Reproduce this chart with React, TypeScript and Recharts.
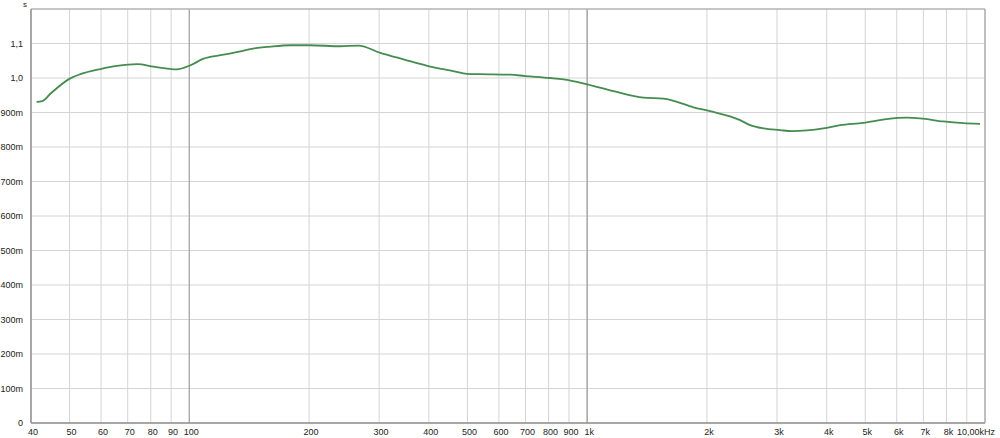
import { LineChart, Line, XAxis, YAxis, CartesianGrid, ReferenceLine } from 'recharts';

// reverberation time (s) against frequency (Hz)
const freqs = [
  41.3, 42.7, 44.8, 50.2, 53.2, 59.8, 65.8, 74, 81.3, 93.1, 100.6, 108.6, 119.7,
  134.3, 142.3, 159.8, 179.4, 201, 239.6, 266.3, 302, 345.4, 403, 461, 498.5,
  538.5, 640.5, 698.6, 807, 872, 1000, 1164.6, 1385, 1555, 1647, 1850, 2037,
  2424, 2568, 2773, 3054, 3268, 3925, 4322, 4946, 5662, 6358, 6866, 7857, 8820,
  9714,
];
const seconds = [
  0.931, 0.933, 0.955, 0.999, 1.011, 1.026, 1.035, 1.04, 1.033, 1.025, 1.037,
  1.056, 1.066, 1.077, 1.084, 1.091, 1.095, 1.095, 1.092, 1.094, 1.073, 1.054,
  1.033, 1.02, 1.012, 1.011, 1.0095, 1.0057, 1.0, 0.996, 0.9816, 0.962, 0.943,
  0.94, 0.934, 0.915, 0.904, 0.878, 0.8635, 0.854, 0.849, 0.846, 0.854, 0.8635,
  0.87, 0.881, 0.885, 0.883, 0.874, 0.869, 0.867,
];

const xTicks = [
  40, 50, 60, 70, 80, 90, 100, 200, 300, 400, 500, 600, 700, 800, 900, 1000,
  2000, 3000, 4000, 5000, 6000, 7000, 8000, 9000, 10000,
];
const xLabels: Record<number, string> = {
  40: '40', 50: '50', 60: '60', 70: '70', 80: '80', 90: '90', 100: '100',
  200: '200', 300: '300', 400: '400', 500: '500', 600: '600', 700: '700',
  800: '800', 900: '900', 1000: '1k', 2000: '2k', 3000: '3k', 4000: '4k',
  5000: '5k', 6000: '6k', 7000: '7k', 8000: '8k', 10000: '10,00kHz',
};
const yTicks = [0, 0.1, 0.2, 0.3, 0.4, 0.5, 0.6, 0.7, 0.8, 0.9, 1.0, 1.1, 1.2];

const data = freqs.map((f, i) => ({ f, s: seconds[i] }));

const font = 'Arial, "Liberation Sans", sans-serif';

function yLabel(v: number) {
  if (v === 0) return '0';
  if (v >= 1.15) return '';
  if (v >= 1) return v.toFixed(1).replace('.', ',');
  return `${Math.round(v * 1000)}m`;
}

// eslint-disable-next-line @typescript-eslint/no-explicit-any
function FreqTick({ x, y, payload }: any) {
  const label = xLabels[payload.value];
  if (!label) return null;
  const last = payload.value === 10000;
  return (
    <text
      x={last ? x + 10 : x + 2}
      y={y + 4}
      textAnchor={last ? 'end' : 'middle'}
      fontSize={9}
      fontFamily={font}
      fill="#222"
    >
      {label}
    </text>
  );
}

export default function App() {
  return (
    <div style={{ position: 'absolute', left: 0, top: 0, width: 1000, height: 438, background: '#fff' }}>
      <LineChart width={1000} height={438} data={data} margin={{ top: 9, right: 15, left: 0, bottom: 0 }}>
        <CartesianGrid stroke="#d4d4d4" strokeWidth={1} />
        <XAxis
          dataKey="f"
          type="number"
          scale="log"
          domain={[40, 10000]}
          ticks={xTicks}
          interval={0}
          allowDataOverflow
          height={15}
          tickLine={false}
          axisLine={{ stroke: '#909090', strokeWidth: 1.5 }}
          tick={<FreqTick />}
        />
        <YAxis
          type="number"
          domain={[0, 1.2]}
          ticks={yTicks}
          interval={0}
          width={31}
          tickLine={false}
          axisLine={{ stroke: '#909090', strokeWidth: 1.5 }}
          tickFormatter={yLabel}
          tick={{ fontSize: 9, fontFamily: font, fill: '#222' }}
          tickMargin={2}
        />
        <ReferenceLine x={100} stroke="#a8a8a8" strokeWidth={1.3} />
        <ReferenceLine x={1000} stroke="#a0a0a0" strokeWidth={1.3} />
        <ReferenceLine y={1.2} stroke="#b8b8b8" strokeWidth={1.5} />
        <ReferenceLine x={10000} stroke="#b0b0b0" strokeWidth={1.5} />
        <Line
          type="monotone"
          dataKey="s"
          stroke="#458c4f"
          strokeWidth={1.8}
          dot={false}
          isAnimationActive={false}
        />
        <text x={23} y={7} fontSize={8} fontFamily={font} fill="#222">s</text>
      </LineChart>
    </div>
  );
}
